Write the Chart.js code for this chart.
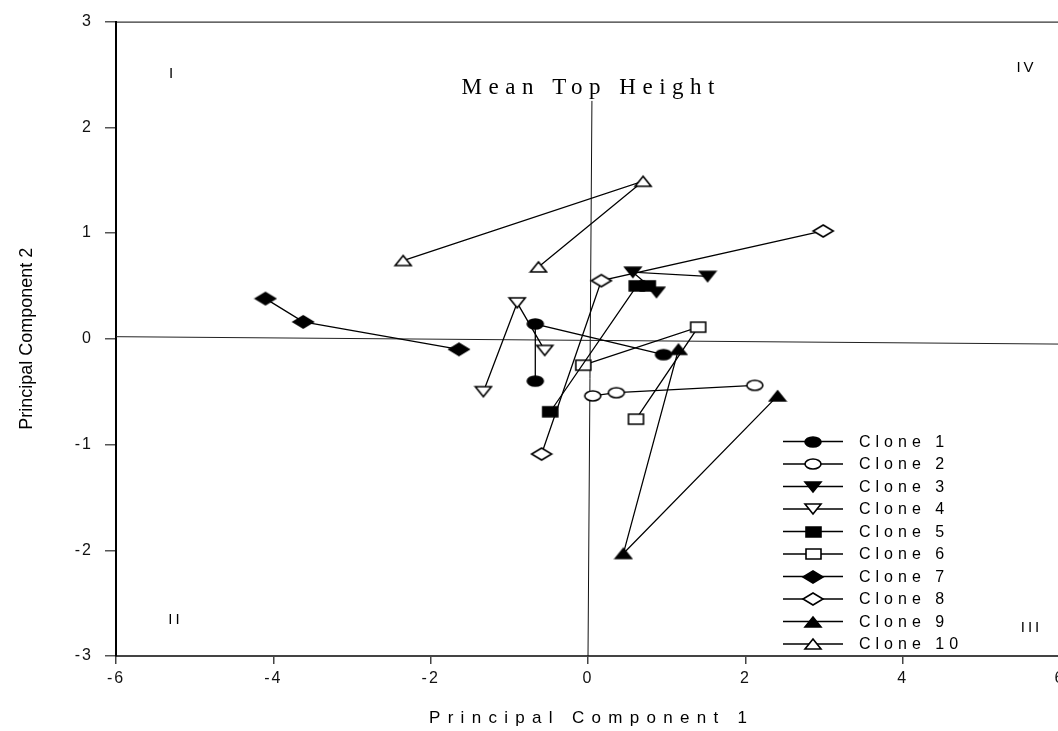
<!DOCTYPE html>
<html><head><meta charset="utf-8">
<script src="https://cdn.jsdelivr.net/npm/chart.js@4.4.1/dist/chart.umd.min.js"></script>
<style>
html,body{margin:0;padding:0;background:#fff;overflow:hidden}
#wrap{width:1058px;height:731px;overflow:hidden;position:relative;background:#fff}
canvas{display:block}
</style></head><body>
<div id="wrap"><canvas id="c" width="1075" height="731"></canvas></div>
<script>
// ---- data (Principal Component 1, Principal Component 2) ----
const cloneLabels = ['Clone 1','Clone 2','Clone 3','Clone 4','Clone 5','Clone 6','Clone 7','Clone 8','Clone 9','Clone 10'];
const clone1  = [[-0.67,-0.40],[-0.67,0.14],[0.96,-0.15]];
const clone2  = [[0.06,-0.54],[0.36,-0.51],[2.12,-0.44]];
const clone3  = [[0.87,0.44],[0.57,0.63],[1.52,0.59]];
const clone4  = [[-1.33,-0.50],[-0.90,0.34],[-0.55,-0.11]];
const clone5  = [[-0.48,-0.69],[0.62,0.50],[0.76,0.50]];
const clone6  = [[-0.06,-0.25],[1.40,0.11],[0.61,-0.76]];
const clone7  = [[-4.10,0.38],[-3.62,0.16],[-1.64,-0.10]];
const clone8  = [[2.99,1.02],[0.17,0.55],[-0.59,-1.09]];
const clone9  = [[1.15,-0.10],[0.45,-2.03],[2.41,-0.54]];
const clone10 = [[-2.35,0.74],[0.70,1.49],[-0.63,0.68]];
const xTickValues = [-6,-4,-2,0,2,4,6];
const yTickValues = [-3,-2,-1,0,1,2,3];
const hRefLine = [[-6,0.02],[6,-0.05]];
const vRefLine = [[0.05,2.25],[0.0,-3]];
const refLabel = 'Mean Top Height';
const quadrantLabels = ['I','II','III','IV'];
const xTitle = 'Principal Component 1';
const yTitle = 'Principal Component 2';

const clones = [clone1,clone2,clone3,clone4,clone5,clone6,clone7,clone8,clone9,clone10];
const SANS = "'Liberation Sans', Arial, sans-serif";
const SERIF = "'Liberation Serif', 'Times New Roman', serif";

function marker(shape, filled, w, h){
  const c = document.createElement('canvas');
  c.width = w + 4; c.height = h + 4;
  const g = c.getContext('2d');
  g.translate(c.width/2, c.height/2);
  g.lineWidth = 1.6; g.strokeStyle = '#000'; g.fillStyle = filled ? '#000' : '#fff';
  g.beginPath();
  if (shape === 'circle') g.ellipse(0,0,w/2,h/2,0,0,Math.PI*2);
  else if (shape === 'square') g.rect(-w/2,-h/2,w,h);
  else if (shape === 'up') { g.moveTo(0,-h/2); g.lineTo(w/2,h/2); g.lineTo(-w/2,h/2); g.closePath(); }
  else if (shape === 'down') { g.moveTo(0,h/2); g.lineTo(w/2,-h/2); g.lineTo(-w/2,-h/2); g.closePath(); }
  else if (shape === 'diamond') { g.moveTo(0,-h/2); g.lineTo(w/2,0); g.lineTo(0,h/2); g.lineTo(-w/2,0); g.closePath(); }
  g.fill(); g.stroke();
  return c;
}
const markers = [
  marker('circle',true,16,10), marker('circle',false,16,10),
  marker('down',true,16,10), marker('down',false,16,10),
  marker('square',true,15,10), marker('square',false,15,10),
  marker('diamond',true,20,12), marker('diamond',false,20,12),
  marker('up',true,16,10), marker('up',false,16,10)
];

const toPts = a => a.map(p => ({x:p[0], y:p[1]}));
const datasets = clones.map((d,i) => ({
  label: cloneLabels[i], data: toPts(d), showLine: true,
  borderColor: '#000', borderWidth: 1.3, pointStyle: markers[i],
  pointRadius: 5, pointHoverRadius: 5, tension: 0, fill: false, order: 0
}));
datasets.push({label:'_h', data: toPts(hRefLine), showLine:true, borderColor:'#222', borderWidth:1, pointRadius:0, order:1});
datasets.push({label:'_v', data: toPts(vRefLine), showLine:true, borderColor:'#111', borderWidth:1, pointRadius:0, order:1});

function spacedText(ctx, text, cx, cy, ls){
  ctx.letterSpacing = ls + 'px';
  const w = ctx.measureText(text).width - ls;
  ctx.textAlign = 'left';
  ctx.fillText(text, cx - w/2, cy);
}

const decor = {
  id: 'decor',
  beforeDraw(chart){ chart.ctx.letterSpacing = '2px'; },
  afterDraw(chart){
    const ctx = chart.ctx, a = chart.chartArea, xs = chart.scales.x;
    ctx.save();
    // top frame line
    ctx.strokeStyle = '#000'; ctx.lineWidth = 1;
    ctx.beginPath(); ctx.moveTo(a.left, a.top + 0.5); ctx.lineTo(a.right, a.top + 0.5); ctx.stroke();

    ctx.fillStyle = '#000'; ctx.textBaseline = 'middle';
    // reference title
    ctx.font = '23px ' + SERIF;
    spacedText(ctx, refLabel, xs.getPixelForValue(0), 88, 6.5);
    // quadrant labels
    ctx.font = '15px ' + SANS;
    spacedText(ctx, quadrantLabels[0], 171, 74, 3);
    spacedText(ctx, quadrantLabels[1], 174, 620, 3);
    spacedText(ctx, quadrantLabels[2], 1030, 628, 3);
    spacedText(ctx, quadrantLabels[3], 1025, 68, 3);
    // axis titles
    ctx.font = '17px ' + SANS;
    spacedText(ctx, xTitle, xs.getPixelForValue(0), 718, 7.3);
    ctx.save();
    ctx.translate(27, (a.top + a.bottom)/2);
    ctx.rotate(-Math.PI/2);
    ctx.font = '18px ' + SANS;
    spacedText(ctx, yTitle, 0, 0, 0);
    ctx.restore();
    // legend
    ctx.font = '16px ' + SANS;
    ctx.letterSpacing = '5px';
    ctx.textAlign = 'left';
    cloneLabels.forEach((lab, i) => {
      const y = 441.5 + i * 22.5;
      ctx.strokeStyle = '#000'; ctx.lineWidth = 1.3;
      ctx.beginPath(); ctx.moveTo(783, y); ctx.lineTo(843, y); ctx.stroke();
      const m = markers[i];
      ctx.drawImage(m, Math.round(813 - m.width/2), Math.round(y - m.height/2));
      ctx.fillText(lab, 859, y + 1);
    });
    ctx.restore();
    ctx.letterSpacing = '0px';
  }
};

new Chart(document.getElementById('c'), {
  type: 'scatter',
  data: { datasets },
  plugins: [decor],
  options: {
    responsive: false, animation: false, devicePixelRatio: 1,
    layout: { padding: { left: 0, top: 18, right: 15, bottom: 0 } },
    plugins: { legend: { display: false }, tooltip: { enabled: false } },
    scales: {
      x: {
        type: 'linear', min: -6, max: 6,
        afterBuildTicks: s => { s.ticks = xTickValues.map(v => ({value: v})); },
        afterFit: s => { s.height = 75; },
        grid: { drawOnChartArea: false, drawTicks: true, tickLength: 8, color: '#444', lineWidth: 1.5 },
        border: { display: true, color: '#444', width: 2 },
        ticks: { font: { family: SANS, size: 16 }, color: '#111', padding: 5, maxRotation: 0, autoSkip: false }
      },
      y: {
        type: 'linear', min: -3, max: 3,
        afterBuildTicks: s => { s.ticks = yTickValues.map(v => ({value: v})); },
        afterFit: s => { s.width = 116; },
        grid: { drawOnChartArea: false, drawTicks: true, tickLength: 11, color: '#555', lineWidth: 1.5 },
        border: { display: true, color: '#000', width: 2 },
        ticks: { font: { family: SANS, size: 16 }, color: '#111', padding: 12, autoSkip: false }
      }
    }
  }
});
</script>
</body></html>
